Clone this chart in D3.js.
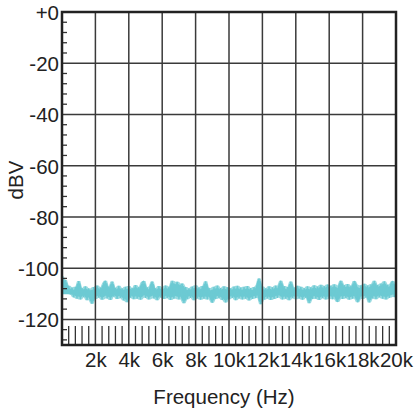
<!DOCTYPE html>
<html>
<head>
<meta charset="utf-8">
<script src="https://cdn.jsdelivr.net/npm/d3@7"></script>
<style>
html,body{margin:0;padding:0;background:#fff;}
svg{display:block;}
text{font-family:"Liberation Sans",Arial,Helvetica,sans-serif;fill:#222;}
</style>
</head>
<body>
<svg id="chart" width="417" height="413"></svg>
<script>
// ---- data ----
const freqStep = 100; // Hz between samples
const traceDb = [
-103.2,-105.8,-104.6,-108.4,-106.9,-110.2,-107.6,-111.4,-107.3,-111.9,
-105.0,-112.2,-107.8,-111.3,-107.1,-112.5,-107.9,-111.6,-113.9,-107.4,
-112.0,-106.8,-111.5,-107.6,-112.3,-105.9,-104.9,-111.8,-107.2,-112.4,
-105.2,-111.1,-107.7,-112.0,-106.9,-111.7,-107.9,-112.6,-107.3,-113.3,
-107.0,-111.5,-107.8,-112.1,-106.6,-111.9,-107.4,-112.3,-105.6,-105.0,
-111.6,-107.5,-112.2,-107.1,-105.2,-111.8,-107.9,-112.5,-107.0,-111.4,
-107.6,-112.0,-106.8,-111.7,-107.3,-112.4,-104.9,-111.9,-107.5,-105.3,
-112.2,-106.9,-106.0,-113.7,-107.4,-112.1,-107.9,-111.6,-107.2,-112.5,
-106.7,-111.8,-107.6,-112.3,-107.0,-111.9,-105.1,-112.2,-107.7,-111.5,
-113.5,-107.3,-112.0,-106.8,-111.7,-107.8,-112.4,-107.1,-113.4,-107.5,
-112.1,-107.9,-111.6,-107.2,-112.5,-106.9,-111.8,-107.6,-112.2,-107.3,
-111.9,-107.0,-112.6,-107.8,-112.0,-107.4,-111.7,-106.6,-104.0,-114.1,
-107.2,-112.3,-107.9,-111.8,-107.1,-112.4,-107.5,-112.0,-106.8,-111.6,
-107.7,-104.9,-112.2,-107.0,-111.9,-107.4,-112.5,-105.2,-111.7,-107.6,
-112.1,-106.9,-111.8,-107.3,-112.3,-107.8,-111.6,-107.1,-113.7,-107.5,
-112.0,-106.7,-111.9,-107.2,-112.4,-106.5,-111.7,-107.0,-112.2,-106.4,
-111.8,-106.9,-112.1,-106.3,-111.6,-113.2,-106.8,-104.9,-112.0,-106.6,
-111.7,-106.2,-112.3,-106.9,-111.9,-105.0,-106.4,-113.3,-111.6,-106.7,
-112.0,-106.1,-111.5,-106.8,-113.4,-106.3,-111.8,-104.9,-112.1,-106.6,
-111.4,-106.0,-111.9,-105.1,-112.2,-106.5,-111.6,-106.2,-105.0,-111.3,
-106.4];
const xTickValues = [2000,4000,6000,8000,10000,12000,14000,16000,18000,20000];
const xTickLabels = ["2k","4k","6k","8k","10k","12k","14k","16k","18k","20k"];
const yTickValues = [0,-20,-40,-60,-80,-100,-120];
const yTickLabels = ["+0","-20","-40","-60","-80","-100","-120"];
const xTitle = "Frequency (Hz)";
const yTitle = "dBV";

// ---- layout ----
const L = 62, R = 396, T = 12, B = 345;
const FS = "20.5px";
const svg = d3.select("#chart");
const x = d3.scaleLinear().domain([0,20000]).range([L,R]);
const y = d3.scaleLinear().domain([0,-130]).range([T,B]);

// noise trace: filled envelope of neighbouring samples + the trace itself
const col = "#6ccad3";
const n = traceDb.length;
const env = traceDb.map((v,i)=>{
  const w = traceDb.slice(Math.max(0,i-1), Math.min(n,i+2));
  return {f:i*freqStep, hi:d3.max(w), lo:d3.min(w)};
});
const band = d3.area().x(d=>x(d.f)).y0(d=>y(d.lo)).y1(d=>y(d.hi));
svg.append("path").datum(env).attr("d",band).attr("fill",col).attr("opacity",0.7);
const core = d3.area().x(d=>x(d.f))
  .y0(d=>y(d3.min([d.lo+1.0,-110.2]))).y1(d=>y(d3.max([d.hi-1.0,-108.6])));
svg.append("path").datum(env).attr("d",core).attr("fill",col);
const line = d3.line().x((d,i)=>x(i*freqStep)).y(d=>y(d));
svg.append("path").datum(traceDb).attr("d",line)
  .attr("fill","none").attr("stroke",col).attr("stroke-width",1.2)
  .attr("stroke-linejoin","miter").attr("stroke-miterlimit",2);

// grid (drawn over the trace)
const g = svg.append("g");
g.selectAll("line.vg").data(xTickValues.filter(v=>v<20000)).enter().append("line")
  .attr("x1",d=>x(d)).attr("x2",d=>x(d)).attr("y1",T).attr("y2",B)
  .attr("stroke","#3a3a3a").attr("stroke-width",1.5);
g.selectAll("line.hg").data(yTickValues.filter(v=>v<0)).enter().append("line")
  .attr("x1",L).attr("x2",R).attr("y1",d=>y(d)).attr("y2",d=>y(d))
  .attr("stroke","#3a3a3a").attr("stroke-width",1.5);

// minor ticks
const yMinor = d3.range(-4,-130,-4).filter(v=>v%20!==0);
g.selectAll("line.ym").data(yMinor).enter().append("line")
  .attr("x1",L).attr("x2",L+5).attr("y1",d=>y(d)).attr("y2",d=>y(d))
  .attr("stroke","#333").attr("stroke-width",1.3);
const xMinor = d3.range(400,20000,400).filter(v=>v%2000!==0);
g.selectAll("line.xm").data(xMinor).enter().append("line")
  .attr("x1",d=>x(d)).attr("x2",d=>x(d)).attr("y1",B).attr("y2",B-19)
  .attr("stroke","#333").attr("stroke-width",1.3);

// border
svg.append("rect").attr("x",L).attr("y",T).attr("width",R-L).attr("height",B-T)
  .attr("fill","none").attr("stroke","#222").attr("stroke-width",2.5);

// axes labels
const yAxis = d3.axisLeft(y).tickValues(yTickValues)
  .tickFormat((d,i)=>yTickLabels[i]).tickSize(0).tickPadding(3);
const ya = svg.append("g").attr("transform",`translate(${L},0)`).call(yAxis);
ya.select(".domain").remove();
ya.selectAll("text").style("font-size",FS).attr("fill","#222").attr("dy","0.36em")
  .style("font-family","'Liberation Sans',Arial,sans-serif");

const xAxis = d3.axisBottom(x).tickValues(xTickValues)
  .tickFormat((d,i)=>xTickLabels[i]).tickSize(0).tickPadding(7);
const xa = svg.append("g").attr("transform",`translate(0,${B})`).call(xAxis);
xa.select(".domain").remove();
xa.selectAll("text").style("font-size",FS).attr("fill","#222")
  .style("font-family","'Liberation Sans',Arial,sans-serif");

svg.append("text").attr("x",224).attr("y",404).attr("text-anchor","middle")
  .style("font-size",FS).text(xTitle);
svg.append("text").attr("transform","translate(23,180) rotate(-90)")
  .attr("text-anchor","middle").style("font-size",FS).text(yTitle);
</script>
</body>
</html>
